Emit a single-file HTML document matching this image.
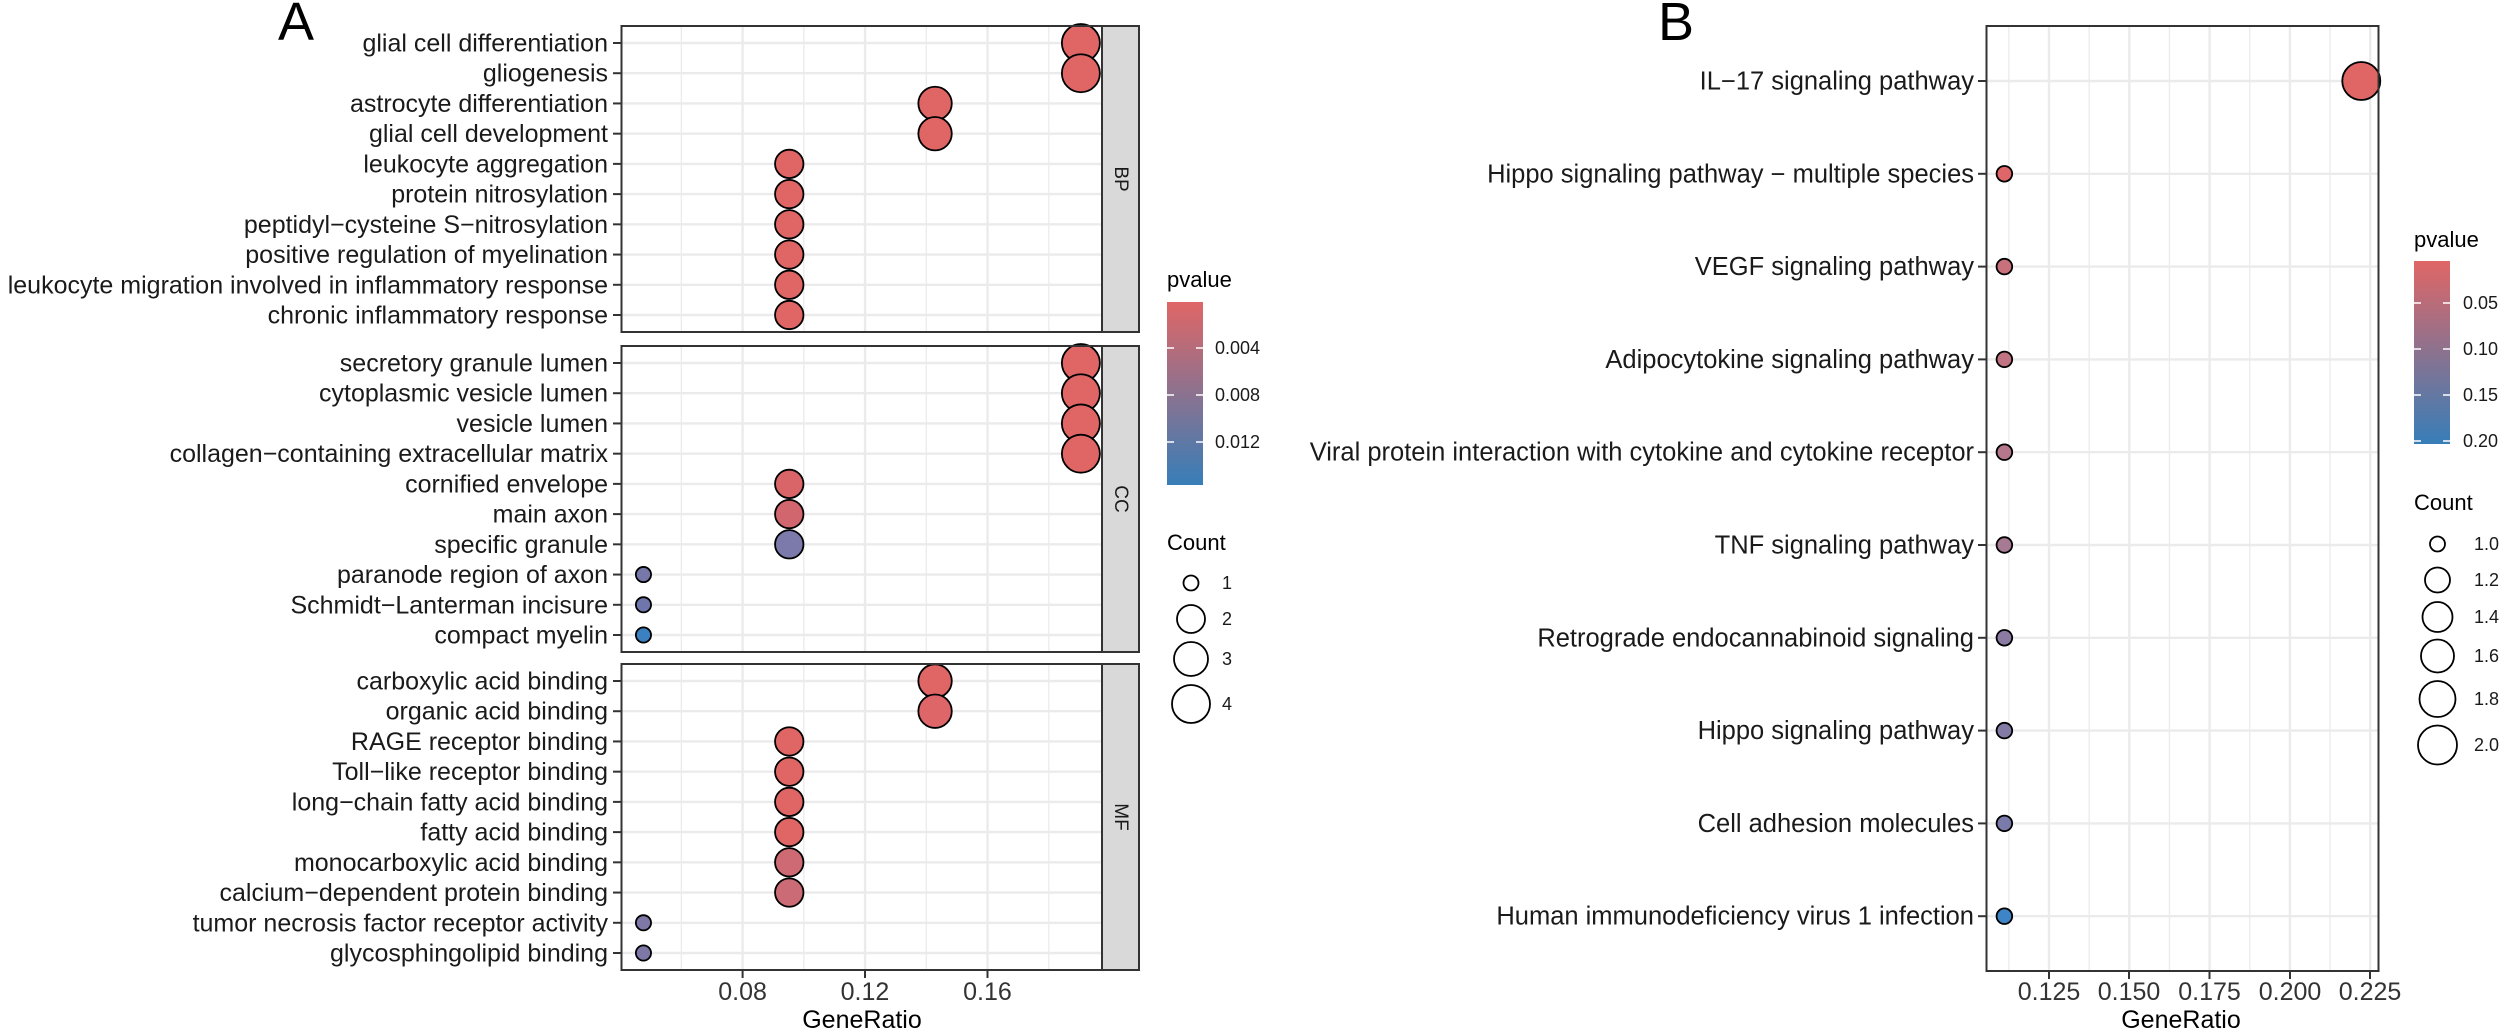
<!DOCTYPE html>
<html><head><meta charset="utf-8"><style>
html,body{margin:0;padding:0;background:#fff;}
svg{display:block;font-family:"Liberation Sans",Arial,sans-serif;}
</style></head><body>
<svg width="2500" height="1031" viewBox="0 0 2500 1031" xmlns="http://www.w3.org/2000/svg">
<defs>
<linearGradient id="gA" x1="0" y1="0" x2="0" y2="1"><stop offset="0" stop-color="#E06666"/><stop offset="1" stop-color="#377EB8"/></linearGradient>
</defs>
<rect width="2500" height="1031" fill="#fff"/>
<text x="278" y="40" font-size="54">A</text>
<text x="1658" y="40" font-size="54">B</text>

<g id="facets"></g>
<g font-size="25" text-anchor="end" fill="#1a1a1a" id="labelsA"></g>

<text x="1167" y="287" font-size="22">pvalue</text>
<rect x="1167" y="302" width="36" height="183" fill="url(#gA)"/>
<g stroke="#fff" stroke-width="1.5">
<line x1="1167" y1="348" x2="1174" y2="348"/><line x1="1196" y1="348" x2="1203" y2="348"/>
<line x1="1167" y1="395" x2="1174" y2="395"/><line x1="1196" y1="395" x2="1203" y2="395"/>
<line x1="1167" y1="442" x2="1174" y2="442"/><line x1="1196" y1="442" x2="1203" y2="442"/>
</g>
<g font-size="18" fill="#1a1a1a">
<text x="1215" y="354">0.004</text><text x="1215" y="401">0.008</text><text x="1215" y="448">0.012</text>
</g>
<text x="1167" y="550" font-size="22">Count</text>
<g fill="none" stroke="#000" stroke-width="1.8">
<circle cx="1191" cy="583" r="7.5"/><circle cx="1191" cy="619" r="14"/><circle cx="1191" cy="659" r="17"/><circle cx="1191" cy="704" r="19"/>
</g>
<g font-size="18" fill="#1a1a1a">
<text x="1222" y="589">1</text><text x="1222" y="625">2</text><text x="1222" y="665">3</text><text x="1222" y="710">4</text>
</g>

<g stroke="#333" stroke-width="2">
<line x1="742.6" y1="970" x2="742.6" y2="978"/><line x1="865" y1="970" x2="865" y2="978"/><line x1="987.5" y1="970" x2="987.5" y2="978"/>
</g>
<g font-size="25" fill="#333" text-anchor="middle">
<text x="742.6" y="1000">0.08</text><text x="865" y="1000">0.12</text><text x="987.5" y="1000">0.16</text>
<text x="862" y="1028" fill="#000">GeneRatio</text>
</g>

<rect x="1986.5" y="26" width="392" height="945" fill="#fff"/>
<g id="gridB" stroke="#EBEBEB"></g>
<g id="pointsB" stroke="#000" stroke-width="1.8"></g>
<rect x="1986.5" y="26" width="392" height="945" fill="none" stroke="#333" stroke-width="2"/>
<g font-size="25.5" text-anchor="end" fill="#1a1a1a" id="labelsB"></g>
<g stroke="#333" stroke-width="2">
<line x1="2049" y1="971" x2="2049" y2="979"/><line x1="2129" y1="971" x2="2129" y2="979"/><line x1="2209.5" y1="971" x2="2209.5" y2="979"/><line x1="2290" y1="971" x2="2290" y2="979"/><line x1="2370" y1="971" x2="2370" y2="979"/>
</g>
<g font-size="25" fill="#333" text-anchor="middle">
<text x="2049" y="1000">0.125</text><text x="2129" y="1000">0.150</text><text x="2209.5" y="1000">0.175</text><text x="2290" y="1000">0.200</text><text x="2370" y="1000">0.225</text>
<text x="2181" y="1028" fill="#000">GeneRatio</text>
</g>

<text x="2414" y="247" font-size="22">pvalue</text>
<rect x="2414" y="261" width="36" height="183" fill="url(#gA)"/>
<g stroke="#fff" stroke-width="1.5">
<line x1="2414" y1="303" x2="2421" y2="303"/><line x1="2443" y1="303" x2="2450" y2="303"/>
<line x1="2414" y1="349" x2="2421" y2="349"/><line x1="2443" y1="349" x2="2450" y2="349"/>
<line x1="2414" y1="395" x2="2421" y2="395"/><line x1="2443" y1="395" x2="2450" y2="395"/>
<line x1="2414" y1="441" x2="2421" y2="441"/><line x1="2443" y1="441" x2="2450" y2="441"/>
</g>
<g font-size="18" fill="#1a1a1a">
<text x="2463" y="309">0.05</text><text x="2463" y="355">0.10</text><text x="2463" y="401">0.15</text><text x="2463" y="447">0.20</text>
</g>
<text x="2414" y="510" font-size="22">Count</text>
<g fill="none" stroke="#000" stroke-width="1.8">
<circle cx="2437.5" cy="544" r="7.5"/><circle cx="2437.5" cy="580" r="12.5"/><circle cx="2437.5" cy="617" r="15"/><circle cx="2437.5" cy="656" r="16.5"/><circle cx="2437.5" cy="699" r="18"/><circle cx="2437.5" cy="745" r="19.5"/>
</g>
<g font-size="18" fill="#1a1a1a">
<text x="2474" y="550">1.0</text><text x="2474" y="586">1.2</text><text x="2474" y="623">1.4</text><text x="2474" y="662">1.6</text><text x="2474" y="705">1.8</text><text x="2474" y="751">2.0</text>
</g>

<script>
(function(){
var NS="http://www.w3.org/2000/svg";
function el(p,t,a,txt){var e=document.createElementNS(NS,t);for(var k in a)e.setAttribute(k,a[k]);if(txt!=null)e.textContent=txt;p.appendChild(e);return e;}
var F=document.getElementById('facets'),L=document.getElementById('labelsA');
var L0=621.5,R0=1102,SR=1139;
function X(v){return 742.6+(v-0.08)*3062;}
var R={1:7.6,2:14.2,3:16.7,4:19};
var facets=[
{top:26,bot:332,name:"BP",rows:[
["glial cell differentiation",4/21,4,"#E06666"],["gliogenesis",4/21,4,"#E06666"],
["astrocyte differentiation",3/21,3,"#E06666"],["glial cell development",3/21,3,"#E06666"],
["leukocyte aggregation",2/21,2,"#E06666"],["protein nitrosylation",2/21,2,"#E06666"],
["peptidyl\u2212cysteine S\u2212nitrosylation",2/21,2,"#E06666"],["positive regulation of myelination",2/21,2,"#E06666"],
["leukocyte migration involved in inflammatory response",2/21,2,"#E06666"],["chronic inflammatory response",2/21,2,"#E06666"]]},
{top:346,bot:652,name:"CC",rows:[
["secretory granule lumen",4/21,4,"#E06666"],["cytoplasmic vesicle lumen",4/21,4,"#E06666"],
["vesicle lumen",4/21,4,"#E06666"],["collagen\u2212containing extracellular matrix",4/21,4,"#E06666"],
["cornified envelope",2/21,2,"#DA6569"],["main axon",2/21,2,"#D2666E"],
["specific granule",2/21,2,"#7C7AAA"],["paranode region of axon",1/21,1,"#7777AA"],
["Schmidt\u2212Lanterman incisure",1/21,1,"#6F76AC"],["compact myelin",1/21,1,"#3B80C0"]]},
{top:664,bot:970,name:"MF",rows:[
["carboxylic acid binding",3/21,3,"#E06666"],["organic acid binding",3/21,3,"#DE6669"],
["RAGE receptor binding",2/21,2,"#E06666"],["Toll\u2212like receptor binding",2/21,2,"#E06666"],
["long\u2212chain fatty acid binding",2/21,2,"#E06666"],["fatty acid binding",2/21,2,"#E06666"],
["monocarboxylic acid binding",2/21,2,"#CD6A74"],["calcium\u2212dependent protein binding",2/21,2,"#CB6B76"],
["tumor necrosis factor receptor activity",1/21,1,"#7E78A6"],["glycosphingolipid binding",1/21,1,"#7E78A6"]]}];
facets.forEach(function(f){
 el(F,'rect',{x:L0,y:f.top,width:R0-L0,height:f.bot-f.top,fill:'#fff'});
 [0.06,0.10,0.14,0.18].forEach(function(v){el(F,'line',{x1:X(v),x2:X(v),y1:f.top,y2:f.bot,stroke:'#EBEBEB','stroke-width':1.3});});
 [0.08,0.12,0.16].forEach(function(v){el(F,'line',{x1:X(v),x2:X(v),y1:f.top,y2:f.bot,stroke:'#EBEBEB','stroke-width':2.4});});
 var step=(f.bot-f.top-34)/9;
 f.rows.forEach(function(r,i){var y=f.top+17+i*step;
  el(F,'line',{x1:L0,x2:R0,y1:y,y2:y,stroke:'#EBEBEB','stroke-width':2.4});});
 f.rows.forEach(function(r,i){var y=f.top+17+i*step;
  el(F,'circle',{cx:X(r[1]),cy:y,r:R[r[2]],fill:r[3],stroke:'#000','stroke-width':1.8});
  el(F,'line',{x1:613,x2:L0,y1:y,y2:y,stroke:'#333','stroke-width':2});
  el(L,'text',{x:608,y:y+8.5},r[0]);});
 el(F,'rect',{x:L0,y:f.top,width:R0-L0,height:f.bot-f.top,fill:'none',stroke:'#333','stroke-width':2});
 el(F,'rect',{x:R0,y:f.top,width:SR-R0,height:f.bot-f.top,fill:'#D9D9D9',stroke:'#333','stroke-width':2});
 var cy=(f.top+f.bot)/2;
 el(F,'text',{x:(R0+SR)/2,y:cy,'font-size':19,fill:'#1a1a1a','text-anchor':'middle','dominant-baseline':'central',transform:'rotate(90 '+((R0+SR)/2)+' '+cy+')'},f.name);
});
var G=document.getElementById('gridB'),P=document.getElementById('pointsB'),LB=document.getElementById('labelsB');
function XB(v){return 2049+(v-0.125)*3212;}
[0.1125,0.1375,0.1625,0.1875,0.2125].forEach(function(v){el(G,'line',{x1:XB(v),x2:XB(v),y1:26,y2:971,'stroke-width':1.3});});
[0.125,0.15,0.175,0.2,0.225].forEach(function(v){el(G,'line',{x1:XB(v),x2:XB(v),y1:26,y2:971,'stroke-width':2.4});});
var rb=[["IL\u221217 signaling pathway",2/9,19,"#E06666"],["Hippo signaling pathway \u2212 multiple species",1/9,7.8,"#DE6669"],
["VEGF signaling pathway",1/9,7.8,"#C8707C"],["Adipocytokine signaling pathway",1/9,7.8,"#C07383"],
["Viral protein interaction with cytokine and cytokine receptor",1/9,7.8,"#B4778C"],["TNF signaling pathway",1/9,7.8,"#A77A93"],
["Retrograde endocannabinoid signaling",1/9,7.8,"#8B7BA2"],["Hippo signaling pathway",1/9,7.8,"#837AA6"],
["Cell adhesion molecules",1/9,7.8,"#7A7BAB"],["Human immunodeficiency virus 1 infection",1/9,7.8,"#3D85C6"]];
rb.forEach(function(r,i){var y=81+i*92.8;
 el(G,'line',{x1:1986.5,x2:2378.5,y1:y,y2:y,'stroke-width':2.4});
 el(P,'circle',{cx:XB(r[1]),cy:y,r:r[2],fill:r[3]});
 el(LB,'line',{x1:1978,x2:1986.5,y1:y,y2:y,stroke:'#333','stroke-width':2});
 el(LB,'text',{x:1974,y:y+8.5},r[0]);});
})();
</script>
</svg>
</body></html>
